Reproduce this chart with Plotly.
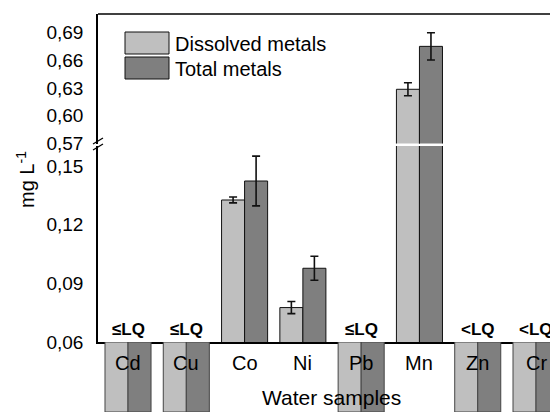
import plotly.graph_objects as go

# ---------------- data ----------------
categories = ["Cd", "Cu", "Co", "Ni", "Pb", "Mn", "Zn", "Cr"]
dissolved = [None, None, 0.1326, 0.0776, None, 0.6286, None, None]
dissolved_err = [0, 0, 0.0015, 0.0031, 0, 0.007, 0, 0]
total = [None, None, 0.1423, 0.0977, None, 0.675, None, None]
total_err = [0, 0, 0.0127, 0.0061, 0, 0.0148, 0, 0]
lq_labels = ["≤LQ", "≤LQ", "", "", "≤LQ", "", "<LQ", "<LQ"]
lower_ticks = [0.06, 0.09, 0.12, 0.15]
upper_ticks = [0.57, 0.60, 0.63, 0.66, 0.69]
series_names = ["Dissolved metals", "Total metals"]

LIGHT = "#bfbfbf"
DARK = "#7f7f7f"
FONT = "Liberation Sans, Arial, sans-serif"

# page offset of the figure (default body margin of the html page)
OFF = 8
PAGE_W, PAGE_H = 558, 412
W, H = PAGE_W - OFF, PAGE_H - OFF
ML, MR, MT, MB = 98 - OFF, 0, 14 - OFF, 0
PW, PH = W - ML - MR, H - MT - MB


def px_x(p):
    # page pixel -> paper x
    return (p - OFF - ML) / PW


def px_y(p):
    # page pixel -> paper y
    return (H - MB - (p - OFF)) / PH


fig = go.Figure()

# stubs shown under the axis for the <LQ samples
stub = [1 if t else None for t in lq_labels]

for ax in ["y", "y2"]:
    fig.add_trace(go.Bar(x=categories, y=dissolved, name=series_names[0], yaxis=ax,
                         marker=dict(color=LIGHT, line=dict(color="#111", width=1)),
                         error_y=dict(type="data", array=dissolved_err, color="#111",
                                      thickness=1.6, width=4),
                         showlegend=False))
    fig.add_trace(go.Bar(x=categories, y=total, name=series_names[1], yaxis=ax,
                         marker=dict(color=DARK, line=dict(color="#111", width=1)),
                         error_y=dict(type="data", array=total_err, color="#111",
                                      thickness=1.6, width=4),
                         showlegend=False))

fig.add_trace(go.Bar(x=categories, y=stub, yaxis="y3", showlegend=False,
                     marker=dict(color=LIGHT, line=dict(color="#444", width=1))))
fig.add_trace(go.Bar(x=categories, y=stub, yaxis="y3", showlegend=False,
                     marker=dict(color=DARK, line=dict(color="#444", width=1))))

tickfont = dict(family=FONT, size=19, color="black")
common_y = dict(showline=True, linecolor="black", linewidth=1.5, showgrid=False,
                zeroline=False, ticks="", tickformat=".2f", tickfont=tickfont,
                ticklabelstandoff=9)

annotations = []
for i, t in enumerate(lq_labels):
    if t:
        annotations.append(dict(x=categories[i], y=px_y(329), xref="x", yref="paper",
                                xanchor="center", yanchor="middle",
                                text="<b>%s</b>" % t, showarrow=False,
                                font=dict(family=FONT, size=17, color="black")))
for c in categories:
    annotations.append(dict(x=c, y=px_y(363), xref="x", yref="paper", text=c,
                            xanchor="center", yanchor="middle",
                            showarrow=False, font=dict(family=FONT, size=20, color="black")))
annotations.append(dict(x=px_x(331), y=px_y(397), xref="paper", yref="paper",
                        xanchor="center", yanchor="middle",
                        text="Water samples", showarrow=False,
                        font=dict(family=FONT, size=21, color="black")))
annotations.append(dict(x=px_x(25), y=px_y(180), xref="paper", yref="paper",
                        xanchor="center", yanchor="middle",
                        text="mg L<sup>-1</sup>", textangle=-90, showarrow=False,
                        font=dict(family=FONT, size=20, color="black")))
# legend text
annotations.append(dict(x=px_x(173), y=px_y(44), xref="paper", yref="paper",
                        xanchor="left", yanchor="middle", text=series_names[0],
                        showarrow=False, font=dict(family=FONT, size=20, color="black")))
annotations.append(dict(x=px_x(173), y=px_y(69), xref="paper", yref="paper",
                        xanchor="left", yanchor="middle", text=series_names[1],
                        showarrow=False, font=dict(family=FONT, size=20, color="black")))

shapes = [
    # top frame
    dict(type="line", xref="paper", yref="paper", x0=0, x1=1, y0=1, y1=1,
         line=dict(color="black", width=1.5)),
    # legend boxes
    dict(type="rect", xref="paper", yref="paper", x0=px_x(125), x1=px_x(169),
         y0=px_y(54), y1=px_y(32), fillcolor=LIGHT, line=dict(color="#111", width=1)),
    dict(type="rect", xref="paper", yref="paper", x0=px_x(125), x1=px_x(169),
         y0=px_y(79), y1=px_y(57), fillcolor=DARK, line=dict(color="#111", width=1)),
    # axis break marks
    dict(type="line", xref="paper", yref="paper", x0=px_x(93), x1=px_x(103),
         y0=px_y(144), y1=px_y(138), line=dict(color="black", width=1.3)),
    dict(type="line", xref="paper", yref="paper", x0=px_x(93), x1=px_x(103),
         y0=px_y(150), y1=px_y(144), line=dict(color="black", width=1.3)),
]

fig.update_layout(
    width=W, height=H,
    margin=dict(l=ML, r=MR, t=MT, b=MB, pad=0, autoexpand=False),
    paper_bgcolor="white", plot_bgcolor="white",
    barmode="group", bargap=0.21, bargroupgap=0,
    separators=", ",
    showlegend=False,
    font=dict(family=FONT, color="black"),
    xaxis=dict(domain=[0, 1], range=[-0.515, 7.377], anchor="y", showline=True,
               linecolor="black", linewidth=1.5, showticklabels=False,
               showgrid=False, zeroline=False, ticks=""),
    yaxis=dict(domain=[px_y(342), px_y(146)], range=[0.06, 0.1602],
               tickvals=lower_ticks, anchor="x", **common_y),
    yaxis2=dict(domain=[px_y(143.5), 1], range=[0.57, 0.71],
                tickvals=upper_ticks, anchor="x", **common_y),
    yaxis3=dict(domain=[0, px_y(342)], range=[0, 1], visible=False, anchor="x"),
    annotations=annotations,
    shapes=shapes,
)

fig.write_html("out.html")
